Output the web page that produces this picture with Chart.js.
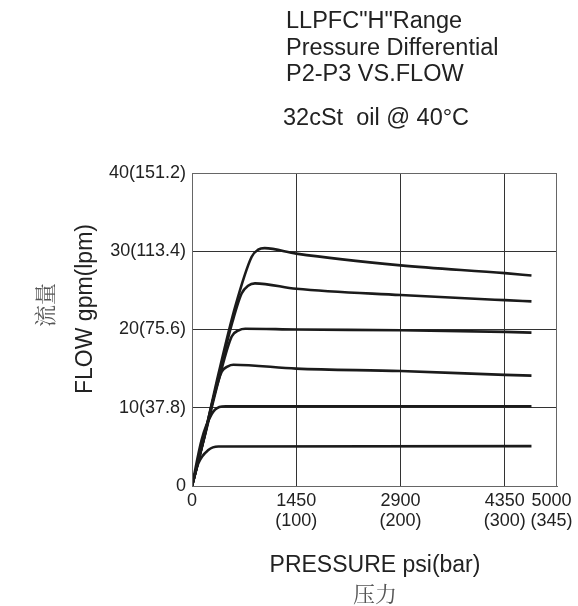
<!DOCTYPE html>
<html>
<head>
<meta charset="utf-8">
<script src="https://cdn.jsdelivr.net/npm/chart.js@4/dist/chart.umd.min.js"></script>
<style>
  html, body { margin: 0; padding: 0; background: #fff; }
  #wrap { width: 578px; height: 606px; }
</style>
</head>
<body>
<div id="wrap"><canvas id="flowChart" width="578" height="606"></canvas></div>
<script>
// ==================== DATA ====================
const titleLines = ['LLPFC"H"Range', 'Pressure Differential', 'P2-P3 VS.FLOW'];
const oilNote = '32cSt  oil @ 40°C';
const xTitle = 'PRESSURE psi(bar)';
const xTitleCn = '压力';
const yTitle = 'FLOW gpm(lpm)';
const yTitleCn = '流量';

const xTickValues = [0, 1450, 2900, 4350, 5000];
const xTickLabels = [['0'], ['1450', '(100)'], ['2900', '(200)'], ['4350', '(300)'], ['5000', '(345)']];
const yTickValues = [0, 10, 20, 30, 40];
const yTickLabels = ['0', '10(37.8)', '20(75.6)', '30(113.4)', '40(151.2)'];

// psi / gpm
const curve1Psi  = [0, 180, 370, 600, 830, 920, 1010, 1450, 2900, 4350, 4720];
const curve1Flow = [0, 6.7, 14.4, 22.9, 29.3, 30.2, 30.4, 29.7, 28.2, 27.2, 26.9];
const curve2Psi  = [0, 180, 370, 560, 690, 780, 876, 1450, 2900, 4350, 4720];
const curve2Flow = [0, 6.6, 14.0, 20.9, 24.6, 25.6, 25.9, 25.2, 24.4, 23.75, 23.6];
const curve3Psi  = [0, 180, 370, 552, 650, 740, 1450, 2900, 4350, 4720];
const curve3Flow = [0, 6.5, 13.5, 19.1, 19.9, 20.1, 20.0, 19.9, 19.7, 19.6];
const curve4Psi  = [0, 150, 300, 413, 500, 575, 1450, 2900, 4350, 4720];
const curve4Flow = [0, 5.5, 11.3, 14.6, 15.3, 15.5, 15.0, 14.7, 14.2, 14.1];
const curve5Psi  = [0, 134, 274, 380, 470, 4720];
const curve5Flow = [0, 5.9, 9.2, 10.1, 10.2, 10.2];
const curve6Psi  = [0, 88, 227, 366, 4720];
const curve6Flow = [0, 2.9, 4.6, 5.05, 5.1];

const X_MAX = 5075;

function toPoints(xs, ys) {
  return xs.map((x, i) => ({ x: x, y: ys[i] }));
}

const curves = [
  [curve1Psi, curve1Flow], [curve2Psi, curve2Flow], [curve3Psi, curve3Flow],
  [curve4Psi, curve4Flow], [curve5Psi, curve5Flow], [curve6Psi, curve6Flow]
];

// ==================== TEXT PLUGIN ====================
const textPlugin = {
  id: 'extraText',
  afterDraw(chart) {
    const ctx = chart.ctx;
    const area = chart.chartArea;
    ctx.save();

    // frame
    ctx.strokeStyle = '#666';
    ctx.lineWidth = 1;
    ctx.strokeRect(area.left + 0.5, area.top + 0.5, area.right - area.left - 1, area.bottom - area.top);

    ctx.fillStyle = '#222';
    ctx.textAlign = 'left';
    ctx.textBaseline = 'alphabetic';
    ctx.font = '23.5px "Liberation Sans", Arial, sans-serif';
    const baselines = [28, 55, 81];
    titleLines.forEach((t, i) => ctx.fillText(t, 286, baselines[i]));
    ctx.fillText(oilNote, 283, 125);

    // x axis title
    ctx.textAlign = 'center';
    ctx.font = '23px "Liberation Sans", Arial, sans-serif';
    ctx.fillText(xTitle, 375, 572);
    ctx.fillStyle = '#555';
    ctx.font = '22px "Noto Serif CJK SC", "Noto Sans CJK SC", serif';
    ctx.fillText(xTitleCn, 375, 602);

    // y axis titles
    ctx.save();
    ctx.translate(92, 309);
    ctx.rotate(-Math.PI / 2);
    ctx.fillStyle = '#222';
    ctx.font = '23px "Liberation Sans", Arial, sans-serif';
    ctx.fillText(yTitle, 0, 0);
    ctx.restore();

    ctx.save();
    ctx.translate(53, 305);
    ctx.rotate(-Math.PI / 2);
    ctx.fillStyle = '#555';
    ctx.font = '22px "Noto Serif CJK SC", "Noto Sans CJK SC", serif';
    ctx.fillText(yTitleCn, 0, 0);
    ctx.restore();

    ctx.restore();
  }
};

// ==================== CHART ====================
const ctx = document.getElementById('flowChart').getContext('2d');
new Chart(ctx, {
  type: 'line',
  data: {
    datasets: curves.map((c, i) => ({
      label: 'curve ' + (i + 1),
      data: toPoints(c[0], c[1]),
      borderColor: '#1b1b1b',
      borderWidth: 2.6,
      pointRadius: 0,
      fill: false,
      cubicInterpolationMode: 'monotone'
    }))
  },
  options: {
    responsive: false,
    animation: false,
    devicePixelRatio: 1,
    layout: { padding: { top: 173, right: 21, left: 0, bottom: 0 } },
    plugins: {
      legend: { display: false },
      tooltip: { enabled: false },
      title: { display: false }
    },
    scales: {
      x: {
        type: 'linear',
        min: 0,
        max: X_MAX,
        afterFit: (scale) => { scale.height = 120; },
        afterBuildTicks: (scale) => { scale.ticks = xTickValues.map(v => ({ value: v })); },
        grid: {
          drawTicks: false,
          color: (c) => (c.tick && (c.tick.value === 0 || c.tick.value === 5000)) ? 'rgba(0,0,0,0)' : '#333',
          lineWidth: 1
        },
        border: { color: '#666' },
        ticks: {
          padding: 5,
          color: '#222',
          maxRotation: 0,
          autoSkip: false,
          font: { family: '"Liberation Sans", Arial, sans-serif', size: 18, lineHeight: 1.1 },
          callback: (v) => {
            const i = xTickValues.indexOf(v);
            return i >= 0 ? xTickLabels[i] : '';
          }
        }
      },
      y: {
        min: 0,
        max: 40,
        afterFit: (scale) => { scale.width = 192; },
        afterBuildTicks: (scale) => { scale.ticks = yTickValues.map(v => ({ value: v })); },
        grid: {
          drawTicks: false,
          color: (c) => (c.tick && c.tick.value === 0) ? 'rgba(0,0,0,0)' : '#333',
          lineWidth: 1
        },
        border: { color: '#666' },
        ticks: {
          padding: 6,
          color: '#222',
          font: { family: '"Liberation Sans", Arial, sans-serif', size: 18 },
          callback: (v) => {
            const i = yTickValues.indexOf(v);
            return i >= 0 ? yTickLabels[i] : '';
          }
        }
      }
    }
  },
  plugins: [textPlugin]
});
</script>
</body>
</html>
